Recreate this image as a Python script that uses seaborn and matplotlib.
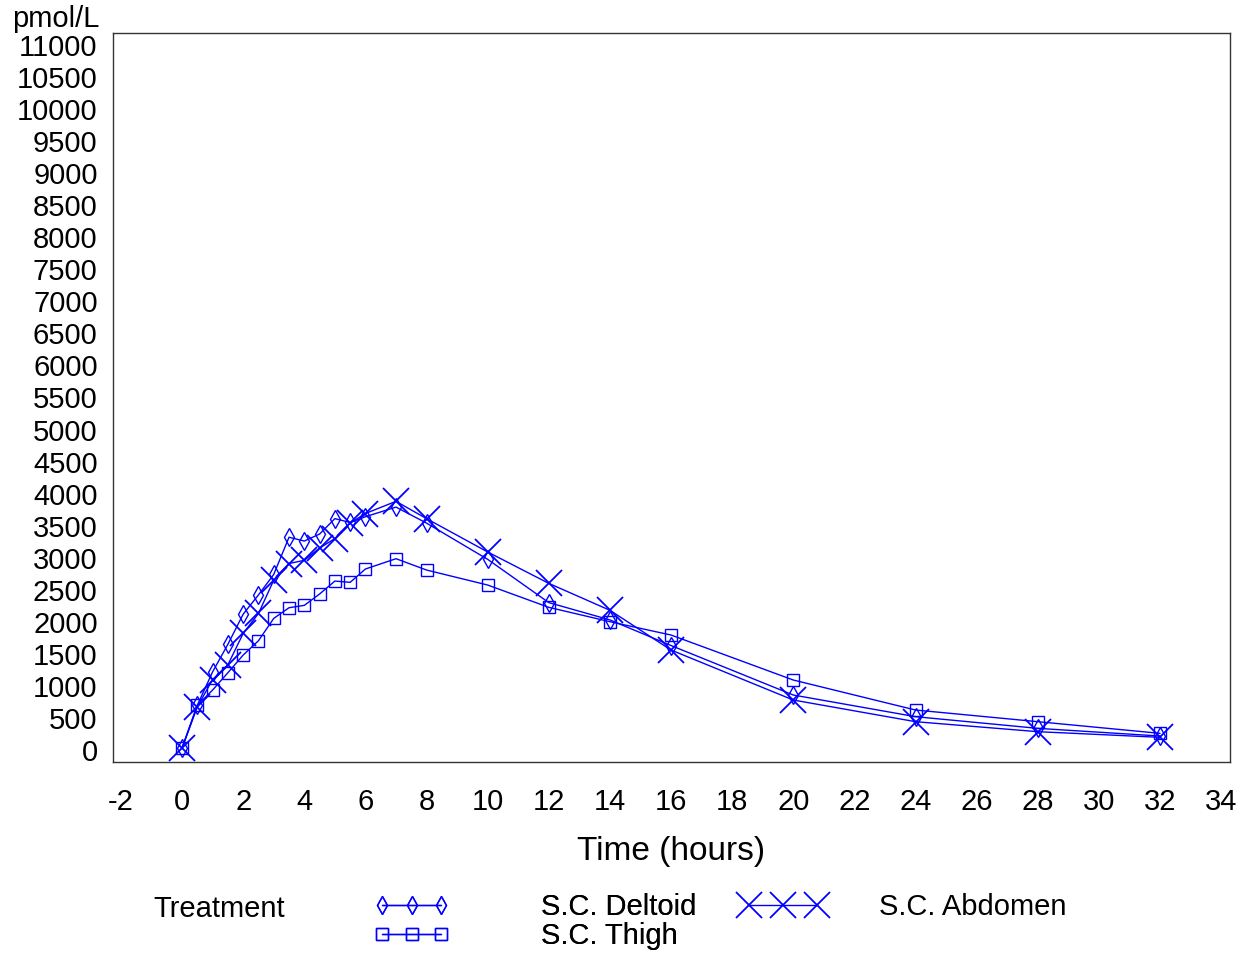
import matplotlib
matplotlib.use("Agg")
import matplotlib.pyplot as plt
from matplotlib.lines import Line2D
from matplotlib.ticker import MultipleLocator
import seaborn as sns
import pandas as pd

# ---- data ----
time_h = [0, 0.5, 1, 1.5, 2, 2.5, 3, 3.5, 4, 4.5, 5, 5.5, 6, 7, 8, 10, 12, 14, 16, 20, 24, 28, 32]
deltoid = [30, 700, 1220, 1650, 2120, 2420, 2740, 3320, 3260, 3370, 3610, 3550, 3640, 3790, 3540,
           2975, 2300, 2030, 1630, 858, 520, 338, 218]
abdomen = [30, 675, 1100, 1330, 1820, 2130, 2650, 2910, 2960, 3150, 3300, 3540, 3690, 3880, 3610,
           3090, 2600, 2180, 1560, 780, 442, 286, 198]
thigh = [30, 697, 936, 1206, 1482, 1705, 2054, 2220, 2257, 2434, 2636, 2616, 2824, 2985, 2808,
         2574, 2226, 2002, 1794, 1092, 624, 442, 260]
series_names = ["S.C. Deltoid", "S.C. Thigh", "S.C. Abdomen"]
x_ticks = list(range(-2, 35, 2))
y_ticks = list(range(0, 11001, 500))

sns.set_style("white")
plt.rcParams["font.family"] = ["Liberation Sans Narrow", "Liberation Sans", "DejaVu Sans"]
plt.rcParams["text.color"] = "black"
plt.rcParams["axes.labelcolor"] = "black"

BLUE = "#0000ff"
FS = 21

fig = plt.figure(figsize=(12.41, 9.56), dpi=100)
ax = fig.add_axes([113 / 1241, 1 - 762 / 956, (1230 - 113) / 1241, (762 - 33) / 956])

styles = {
    "S.C. Deltoid": dict(marker="d", markersize=9, mew=1.0),
    "S.C. Thigh": dict(marker="s", markersize=9, mew=1.0),
    "S.C. Abdomen": dict(marker="x", markersize=19, mew=1.3),
}
values = {"S.C. Deltoid": deltoid, "S.C. Thigh": thigh, "S.C. Abdomen": abdomen}

for name in series_names:
    df = pd.DataFrame({"time": time_h, "conc": values[name]})
    st = styles[name]
    sns.lineplot(data=df, x="time", y="conc", ax=ax, color=BLUE, lw=1.0,
                 marker=st["marker"], markersize=st["markersize"], mew=st["mew"],
                 mfc="none", mec=BLUE, legend=False)

ax.set_xlim(-2.26, 34.29)
ax.set_ylim(-187, 11187)
ax.set_xticks(x_ticks)
ax.set_xticklabels([str(v) for v in x_ticks], fontsize=FS)
ax.set_yticks(y_ticks)
ax.set_yticklabels([str(v) for v in y_ticks], fontsize=FS)
ax.yaxis.set_minor_locator(MultipleLocator(100))
ax.tick_params(axis="x", which="major", direction="out", length=9, width=1, pad=10,
               color="#333333", labelcolor="black")
ax.tick_params(axis="y", which="major", direction="out", length=8, width=1, pad=3,
               color="#333333", labelcolor="black")
ax.tick_params(axis="y", which="minor", direction="out", length=4, width=1, color="#333333")
for sp in ax.spines.values():
    sp.set_visible(True)
    sp.set_color("#333333")
    sp.set_linewidth(1.0)
ax.set_xlabel("Time (hours)", fontsize=24, labelpad=14, color="black")
ax.set_ylabel("")
ax.grid(False)

fig.text(12 / 1241, 1 - 19 / 956, "pmol/L", fontsize=FS, va="center", ha="left")
fig.text(153 / 1241, 1 - 909 / 956, "Treatment", fontsize=FS, va="center", ha="left")


def make_handle(name):
    st = styles[name]
    return Line2D([], [], color=BLUE, lw=1.0, marker=st["marker"],
                  markersize=st["markersize"], mew=st["mew"], mfc="none", mec=BLUE)


px = 21 * 100 / 72  # font size in pixels
leg1 = fig.legend([make_handle(n) for n in series_names[:2]], series_names[:2],
                  loc="upper left", bbox_to_anchor=(373 / 1241, 1 - 893 / 956), frameon=False,
                  fontsize=FS, handlelength=77 / px, handletextpad=91 / px,
                  labelspacing=0.05, numpoints=3, borderpad=0, borderaxespad=0)
leg2 = fig.legend([make_handle(series_names[2])], series_names[2:],
                  loc="upper left", bbox_to_anchor=(740 / 1241, 1 - 893 / 956), frameon=False,
                  fontsize=FS, handlelength=86 / px, handletextpad=53 / px,
                  numpoints=3, borderpad=0, borderaxespad=0)
fig.add_artist(leg1)

fig.savefig("out.png", dpi=100, facecolor="white")
